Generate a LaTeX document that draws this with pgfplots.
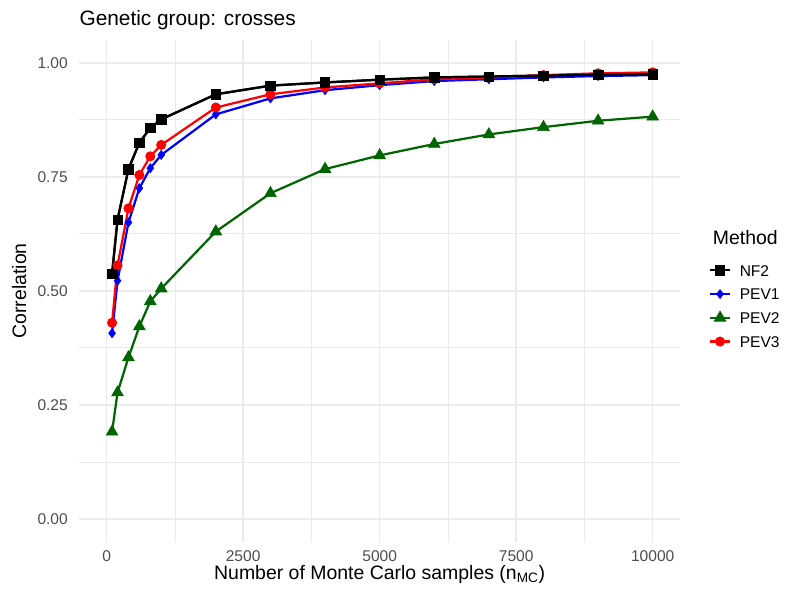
\documentclass[border=0pt]{standalone}
\usepackage{fontspec}
\setmainfont{Liberation Sans}
\usepackage{pgfplots}
\pgfplotsset{compat=1.18}
\usepackage{pgfplotstable}
\definecolor{gridcol}{HTML}{EBEBEB}
\definecolor{ticklab}{HTML}{4D4D4D}
\definecolor{pevgreen}{HTML}{006400}
\definecolor{pevblue}{HTML}{0000FF}
\definecolor{pevred}{HTML}{FF0000}

\pgfplotstableread{
x     nf    pa    pb    pc
100   0.538 0.407 0.191 0.430
200   0.656 0.522 0.277 0.556
400   0.767 0.650 0.354 0.681
600   0.825 0.725 0.422 0.754
800   0.857 0.769 0.477 0.795
1000  0.876 0.798 0.505 0.820
2000  0.931 0.887 0.630 0.902
3000  0.950 0.922 0.714 0.931
4000  0.957 0.940 0.767 0.946
5000  0.963 0.951 0.797 0.955
6000  0.968 0.960 0.822 0.964
7000  0.970 0.964 0.843 0.968
8000  0.972 0.968 0.859 0.973
9000  0.974 0.971 0.873 0.977
10000 0.975 0.973 0.882 0.979
}\datatab

\begin{document}
\begin{tikzpicture}
\begin{axis}[
  at={(57.1pt,39.1pt)}, anchor=south west,
  scale only axis, width=432.5pt, height=361.2pt,
  xmin=-500, xmax=10500, ymin=-0.05, ymax=1.05,
  scaled x ticks=false, scaled y ticks=false,
  xtick={0,2500,5000,7500,10000}, xticklabels={0,2500,5000,7500,10000},
  ytick={0,0.25,0.5,0.75,1}, yticklabels={0.00,0.25,0.50,0.75,1.00},
  minor xtick={1250,3750,6250,8750}, minor ytick={0.125,0.375,0.625,0.875},
  grid=both,
  major grid style={gridcol, line width=1.07pt},
  minor grid style={gridcol, line width=0.53pt},
  axis line style={draw=none},
  major tick length=0pt, minor tick length=0pt,
  tick style={draw=none},
  ticklabel style={font=\fontsize{11.2}{13}\selectfont, text=ticklab},
  xticklabel style={anchor=base, inner sep=0pt, yshift=-14.6pt},
  yticklabel style={anchor=east, inner sep=0pt, xshift=-8.1pt},
  every axis title shift=0pt,
  title={Genetic group: crosses},
  title style={at={(axis description cs:0,1.0289)}, anchor=base west, inner sep=0pt, font=\fontsize{15}{18}\selectfont},
  xlabel={Number of Monte Carlo samples (n\textsubscript{MC})},
  xlabel style={at={(axis description cs:0.5,-0.0752)}, anchor=base, inner sep=0pt, font=\fontsize{14}{17}\selectfont},
  ylabel={Correlation},
  ylabel style={at={(axis description cs:-0.0887,0.5)}, anchor=base, inner sep=0pt, font=\fontsize{14}{17}\selectfont},
  legend style={at={(axis description cs:1.050,0.5527)}, anchor=north west, draw=none, fill=none,
    font=\fontsize{11.2}{13}\selectfont, row sep=8.6pt, column sep=7pt, inner sep=0pt, outer sep=0pt,
    nodes={inner sep=0pt, text height=8.5pt, text depth=0pt}},
  legend cell align=left,
  legend image code/.code={\path[draw=none,fill=none] (0pt,-2pt) rectangle (14.4pt,2pt);
    \draw[overlay,mark repeat=2,mark phase=2,#1] plot coordinates {(0pt,0pt)(7.2pt,0pt)(14.4pt,0pt)};},
]
\addplot[black, line width=1.6pt, mark=square*, mark size=3.4pt, mark options={solid, line width=0.4pt}] table[x=x,y=nf]{\datatab};
\addlegendentry{NF2}
\addplot[pevblue, line width=1.6pt, mark=diamond*, mark size=3.3pt, mark options={solid, line width=0.4pt}] table[x=x,y=pa]{\datatab};
\addlegendentry{PEV1}
\addplot[pevgreen, line width=1.6pt, mark=triangle*, mark size=4.9pt, mark options={solid, line width=0.4pt}] table[x=x,y=pb]{\datatab};
\addlegendentry{PEV2}
\addplot[pevred, line width=1.6pt, mark=*, mark size=3.4pt, mark options={solid, line width=0.4pt}] table[x=x,y=pc]{\datatab};
\addlegendentry{PEV3}
\addplot[black, line width=1.6pt, mark=square*, mark size=3.4pt, mark options={solid, line width=0.4pt}, forget plot] table[x=x,y=nf]{\datatab};
\end{axis}
\node[anchor=base west, inner sep=0pt, font=\fontsize{14}{17}\selectfont] at (513.1pt,253.4pt) {Method};
\pgfresetboundingbox
\path[use as bounding box] (0,0) rectangle (570.96pt,429.12pt);
\end{tikzpicture}
\end{document}
